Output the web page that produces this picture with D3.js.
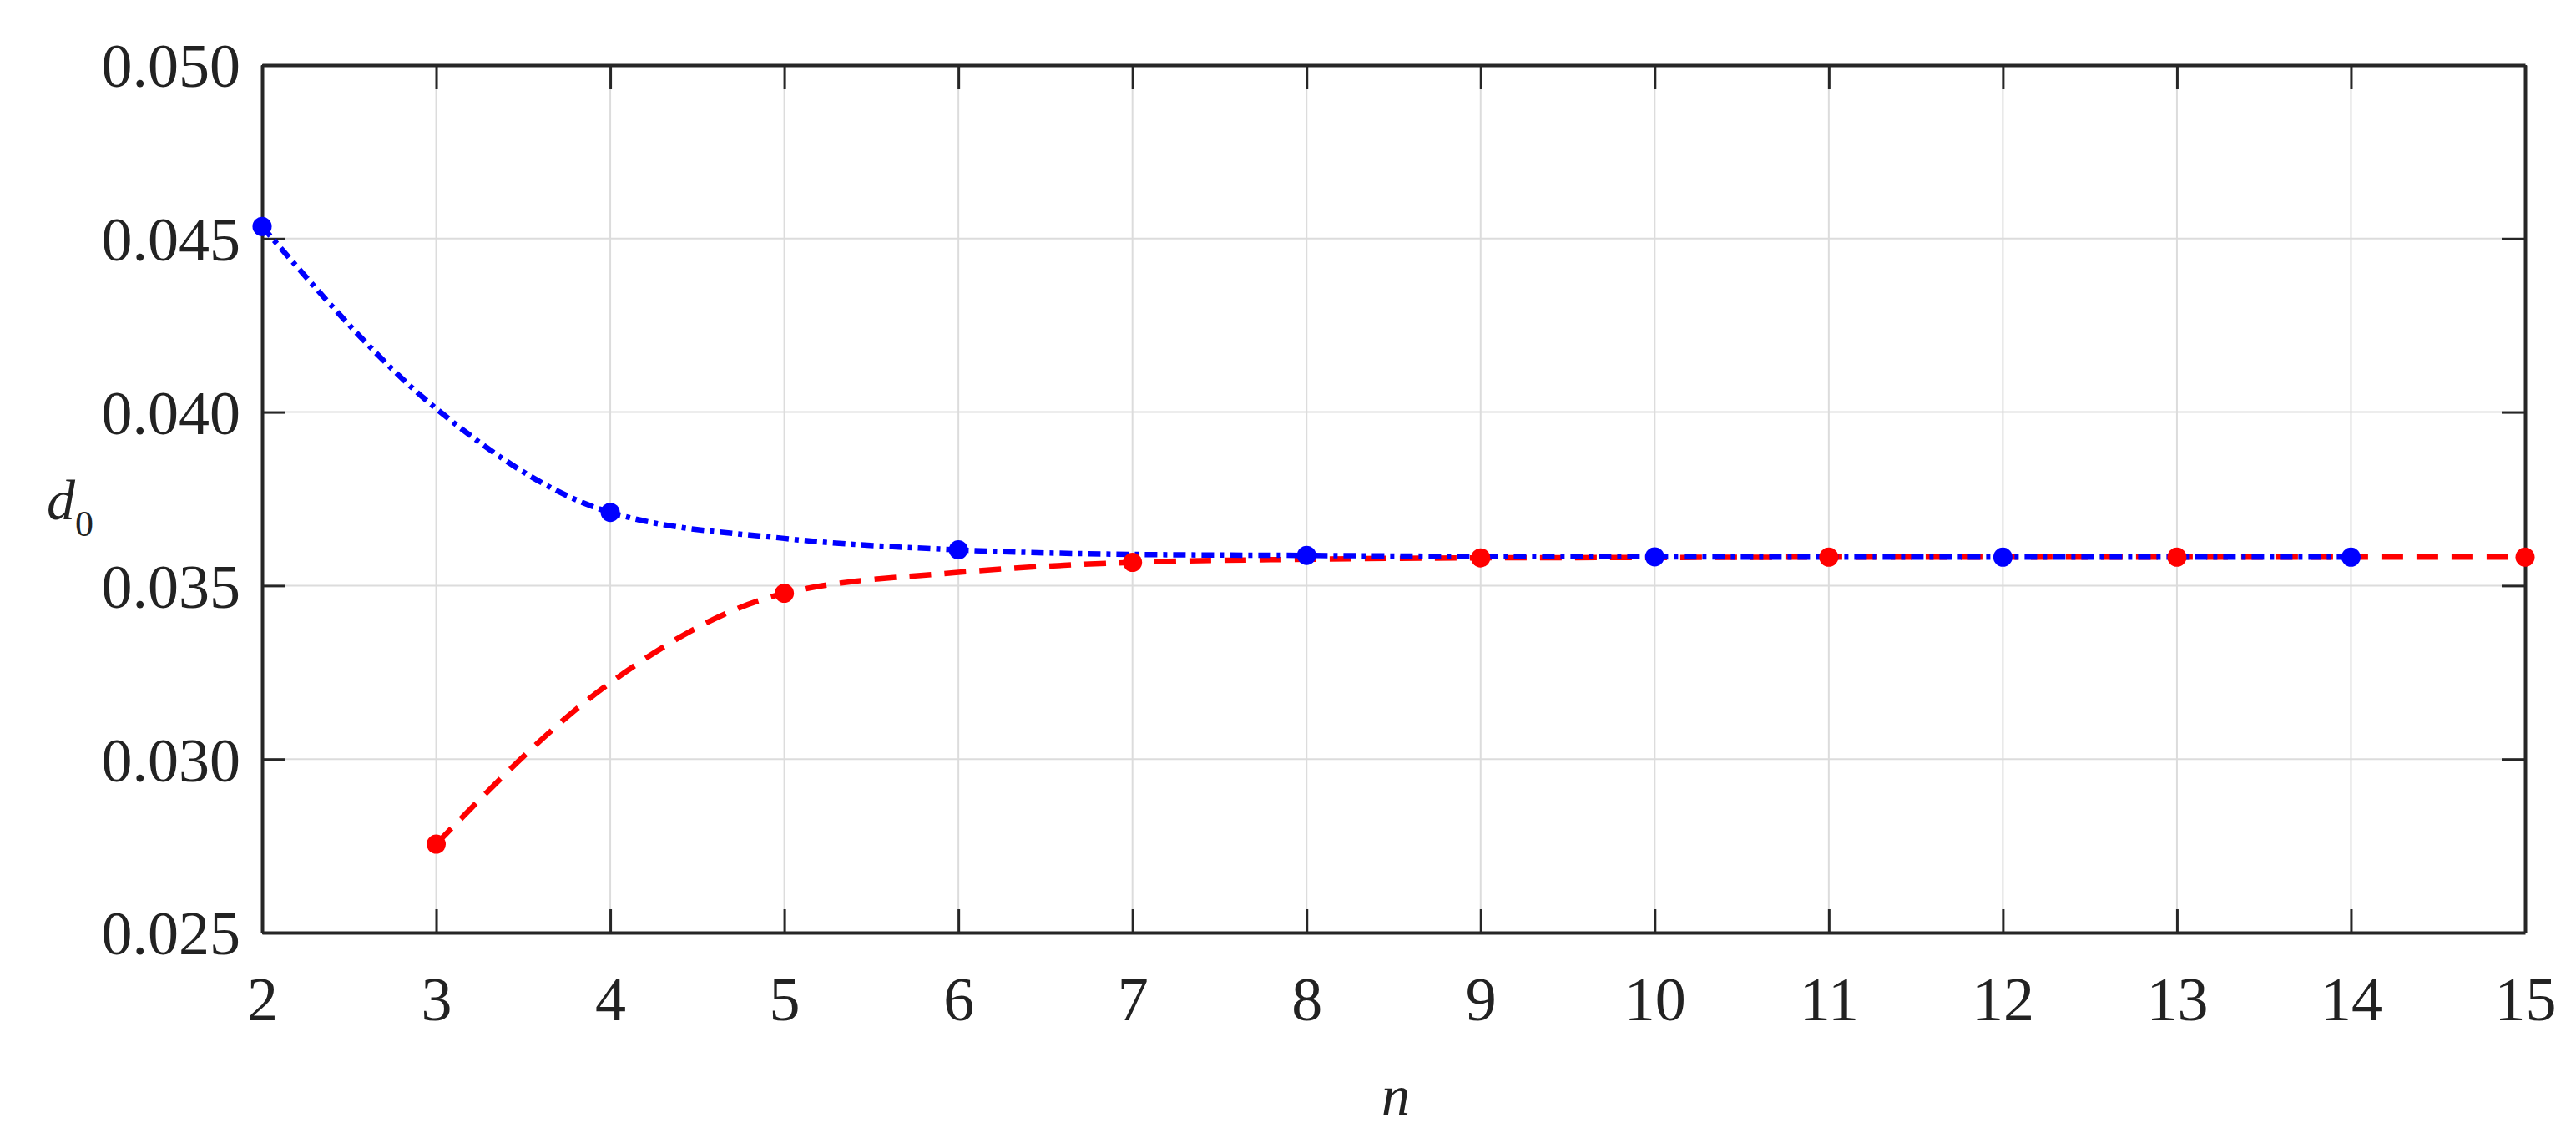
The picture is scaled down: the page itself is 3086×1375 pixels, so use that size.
<!DOCTYPE html>
<html>
<head>
<meta charset="utf-8">
<script src="https://cdn.jsdelivr.net/npm/d3@7"></script>
<style>
  body { margin: 0; background: #fff; }
  svg text { font-family: "Liberation Serif", "Times New Roman", Times, serif !important; fill: #222; }
</style>
</head>
<body>
<div id="chart"></div>
<script>
// n values and d0 for each series
const blueN = [2, 3, 4, 5, 6, 7, 8, 9, 10, 11, 12, 13, 14];
const blueD = [0.04535, 0.0401, 0.03711, 0.03636, 0.03603, 0.0359, 0.03587, 0.03584, 0.03583, 0.03582, 0.03582, 0.03582, 0.03582];
const blueMarkN = [2, 4, 6, 8, 10, 12, 14];

const redN = [3, 4, 5, 6, 7, 8, 9, 10, 11, 12, 13, 14, 15];
const redD = [0.02755, 0.0322, 0.03478, 0.03538, 0.03567, 0.03576, 0.0358, 0.03581, 0.03582, 0.03582, 0.03582, 0.03582, 0.03582];
const redMarkN = [3, 5, 7, 9, 11, 13, 15];

const xTicks = d3.range(2, 16);
const yTicks = [0.025, 0.030, 0.035, 0.040, 0.045, 0.050];

const W = 3086, H = 1375;
const m = { left: 314, right: W - 3025, top: 78, bottom: H - 1117 };

const svg = d3.select("#chart").append("svg")
  .attr("width", W).attr("height", H);

const x = d3.scaleLinear().domain([2, 15]).range([m.left, W - m.right]);
const y = d3.scaleLinear().domain([0.025, 0.050]).range([H - m.bottom, m.top]);

// grid
svg.append("g").selectAll("line").data(xTicks.slice(1, -1)).join("line")
  .attr("x1", d => x(d)).attr("x2", d => x(d))
  .attr("y1", m.top).attr("y2", H - m.bottom)
  .attr("stroke", "#dcdcdc").attr("stroke-width", 2);
svg.append("g").selectAll("line").data(yTicks.slice(1, -1)).join("line")
  .attr("y1", d => y(d)).attr("y2", d => y(d))
  .attr("x1", m.left).attr("x2", W - m.right)
  .attr("stroke", "#dcdcdc").attr("stroke-width", 2);

// axes (inward ticks, on all four sides)
const tk = 28;
const fmt = d3.format(".3f");
const axB = svg.append("g").attr("transform", `translate(0,${H - m.bottom})`)
  .call(d3.axisBottom(x).tickValues(xTicks).tickSizeInner(-tk).tickSizeOuter(0).tickPadding(52));
const axT = svg.append("g").attr("transform", `translate(0,${m.top})`)
  .call(d3.axisTop(x).tickValues(xTicks).tickSizeInner(-tk).tickSizeOuter(0).tickFormat(""));
const axL = svg.append("g").attr("transform", `translate(${m.left},0)`)
  .call(d3.axisLeft(y).tickValues(yTicks).tickSizeInner(-tk).tickSizeOuter(0).tickPadding(26).tickFormat(fmt));
const axR = svg.append("g").attr("transform", `translate(${W - m.right},0)`)
  .call(d3.axisRight(y).tickValues(yTicks).tickSizeInner(-tk).tickSizeOuter(0).tickFormat(""));
[axB, axT, axL, axR].forEach(a => {
  a.attr("font-family", null);
  a.selectAll("path").attr("stroke", "#262626").attr("stroke-width", 4);
  a.selectAll("line").attr("stroke", "#262626").attr("stroke-width", 3);
  a.selectAll("text").attr("font-size", 74).attr("fill", "#222");
});
axL.selectAll("text").attr("dy", "0.35em");

// lines
const line = d3.line().x(d => x(d[0])).y(d => y(d[1])).curve(d3.curveMonotoneX);
svg.append("path").datum(redN.map((n, i) => [n, redD[i]]))
  .attr("d", line).attr("fill", "none").attr("stroke", "#ff0000")
  .attr("stroke-width", 6.5).attr("stroke-dasharray", "26 16");
svg.append("path").datum(blueN.map((n, i) => [n, blueD[i]]))
  .attr("d", line).attr("fill", "none").attr("stroke", "#0000ff")
  .attr("stroke-width", 6.5).attr("stroke-dasharray", "15 7 5 7");

// markers
svg.append("g").selectAll("circle").data(blueMarkN).join("circle")
  .attr("cx", d => x(d)).attr("cy", d => y(blueD[blueN.indexOf(d)]))
  .attr("r", 11.5).attr("fill", "#0000ff");
svg.append("g").selectAll("circle").data(redMarkN).join("circle")
  .attr("cx", d => x(d)).attr("cy", d => y(redD[redN.indexOf(d)]))
  .attr("r", 11.5).attr("fill", "#ff0000");

// axis labels
const yl = svg.append("text").attr("x", 56).attr("y", 622).attr("font-size", 68);
yl.append("tspan").attr("font-style", "italic").text("d");
yl.append("tspan").attr("font-size", 44).attr("dy", 20).text("0");
svg.append("text").attr("x", 1672).attr("y", 1335).attr("text-anchor", "middle")
  .attr("font-size", 68).attr("font-style", "italic").text("n");
</script>
</body>
</html>
